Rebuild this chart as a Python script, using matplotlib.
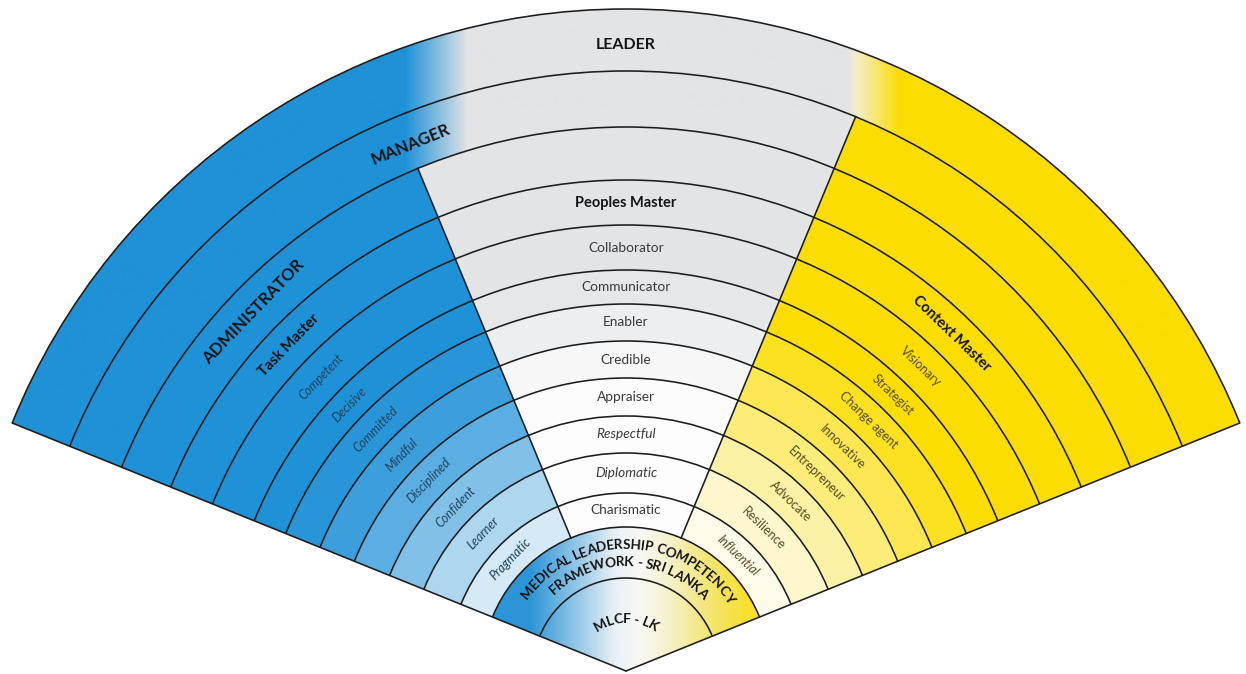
import numpy as np
import matplotlib
matplotlib.use("Agg")
import matplotlib.pyplot as plt
from matplotlib.patches import Wedge, Arc
from matplotlib.colors import to_rgb
from matplotlib.font_manager import FontProperties

FONT = ["Lato", "DejaVu Sans"]
plt.rcParams["font.family"] = FONT

# ---------------------------------------------------------------------------
# Data
# ---------------------------------------------------------------------------
# ring boundaries (px from the tip of the fan), outermost first
RADII = [662, 600, 544, 491, 446, 401, 367, 330, 293, 255, 218, 178, 144, 93]

TOP_LABEL = "LEADER"
SECOND_LABEL = "MANAGER"
LEFT_LABELS = ["ADMINISTRATOR", "Task Master", "Competent", "Decisive", "Committed",
               "Mindful", "Disciplined", "Confident", "Learner", "Pragmatic"]
CENTER_LABELS = ["", "Peoples Master", "Collaborator", "Communicator", "Enabler",
                 "Credible", "Appraiser", "Respectful", "Diplomatic", "Charismatic"]
RIGHT_LABELS = ["", "Context Master", "Visionary", "Strategist", "Change agent",
                "Innovative", "Entrepreneur", "Advocate", "Resilience", "Influential"]
CORE_TITLE = ["MEDICAL LEADERSHIP COMPETENCY", "FRAMEWORK - SRI LANKA"]
CORE_LABEL = "MLCF - LK"

# ---------------------------------------------------------------------------
# Style
# ---------------------------------------------------------------------------
W, H = 1246, 674
CX, CY = 626, 3
EDGE_L, EDGE_R = 158.0, 22.0
SPLIT_L, SPLIT_R = 112.5, 67.5

BLUE = "#1f91d7"
YELLOW = "#fbdd02"
GREY = "#e3e4e6"
WHITE = "#fdfdfd"
LINE = "#1c1c1c"

BLUE_FADE = [0, 0, 0, 0, 0.04, 0.13, 0.27, 0.44, 0.64, 0.82]
GREY_FADE = [0, 0, 0, 0.1, 0.4, 0.75, 0.95, 1, 1, 1]
YELLOW_FADE = [0, 0, 0, 0, 0.12, 0.32, 0.48, 0.65, 0.8, 0.92]

TOP_STOPS = [(0, BLUE), (405, BLUE), (468, GREY), (848, GREY),
             (858, "#f4eec4"), (900, YELLOW), (W, YELLOW)]
CORE_STOPS = [(0, BLUE), (530, "#2d96d7"), (578, "#96c8e8"), (615, "#e8f0f5"),
              (640, "#f8f8f5"), (670, "#f6f1c8"), (705, "#f3e67a"),
              (745, "#f8e030"), (W, YELLOW)]

ITALIC = {"Competent", "Decisive", "Committed", "Mindful", "Disciplined", "Confident",
          "Learner", "Pragmatic", "Respectful", "Diplomatic", "Influential"}
BOLD = {"ADMINISTRATOR", "Task Master", "Peoples Master", "Context Master"}

fig = plt.figure(figsize=(W / 100, H / 100), dpi=100)
ax = fig.add_axes([0, 0, 1, 1])


def polar(r, deg):
    t = np.radians(deg)
    return CX + r * np.cos(t), CY + r * np.sin(t)


def blend(c, frac, to=WHITE):
    a, b = np.array(to_rgb(c)), np.array(to_rgb(to))
    return tuple(a + (b - a) * frac)


def gradient_wedge(r_out, r_in, t1, t2, stops):
    patch = Wedge((CX, CY), r_out, t1, t2, width=r_out - r_in, fc="none", ec="none")
    ax.add_patch(patch)
    xs = np.arange(0, W + 1)
    pos = [p for p, _ in stops]
    rgb = np.array([to_rgb(c) for _, c in stops])
    img = np.stack([np.interp(xs, pos, rgb[:, k]) for k in range(3)], axis=-1)[None]
    im = ax.imshow(img, extent=(0, W, 0, H), origin="lower", aspect="auto",
                   interpolation="bilinear", zorder=1)
    im.set_clip_path(patch)


def solid_wedge(r_out, r_in, t1, t2, color):
    ax.add_patch(Wedge((CX, CY), r_out, t1, t2, width=r_out - r_in,
                       fc=color, ec="none", zorder=2))


def arc_text(s, r, mid, size, color="#151515"):
    fp = FontProperties(family=FONT, size=size, weight="bold")
    rend = fig.canvas.get_renderer()
    base = rend.get_text_width_height_descent("I", fp, ismath=False)[0]

    def adv(t):
        return rend.get_text_width_height_descent(t + "I", fp, ismath=False)[0] - base

    total = adv(s)
    for i, ch in enumerate(s):
        if ch == " ":
            continue
        d = (adv(s[:i]) + adv(s[:i + 1])) / 2 - total / 2
        ang = mid - np.degrees(d / r)
        x, y = polar(r, ang)
        ax.text(x, y, ch, rotation=ang - 90, rotation_mode="anchor", ha="center",
                va="center", fontproperties=fp, color=color, zorder=6)


# ---------------------------------------------------------------------------
# Fills
# ---------------------------------------------------------------------------
# LEADER band
gradient_wedge(RADII[0], RADII[1], EDGE_R, EDGE_L, TOP_STOPS)
# MANAGER band
gradient_wedge(RADII[1], RADII[2], SPLIT_R, EDGE_L, TOP_STOPS)
solid_wedge(RADII[1], RADII[2], EDGE_R, SPLIT_R, YELLOW)

# three sectors
for i in range(len(LEFT_LABELS)):
    r_out, r_in = RADII[2 + i], RADII[3 + i]
    solid_wedge(r_out, r_in, SPLIT_L, EDGE_L, blend(BLUE, BLUE_FADE[i]))
    solid_wedge(r_out, r_in, SPLIT_R, SPLIT_L, blend(GREY, GREY_FADE[i]))
    solid_wedge(r_out, r_in, EDGE_R, SPLIT_R, blend(YELLOW, YELLOW_FADE[i]))

# core rings
gradient_wedge(RADII[-2], RADII[-1], EDGE_R, EDGE_L, CORE_STOPS)
gradient_wedge(RADII[-1], 0, EDGE_R, EDGE_L, CORE_STOPS)

# ---------------------------------------------------------------------------
# Lines
# ---------------------------------------------------------------------------
for r in RADII:
    ax.add_patch(Arc((CX, CY), 2 * r, 2 * r, theta1=EDGE_R, theta2=EDGE_L,
                     color=LINE, lw=1.15, zorder=4))
for ang in (EDGE_L, EDGE_R):
    x, y = polar(RADII[0], ang)
    ax.plot([CX, x], [CY, y], color=LINE, lw=1.15, zorder=4, solid_capstyle="round")
for ang, r_top in ((SPLIT_L, RADII[2]), (SPLIT_R, RADII[1])):
    x0, y0 = polar(RADII[-2], ang)
    x1, y1 = polar(r_top, ang)
    ax.plot([x0, x1], [y0, y1], color=LINE, lw=1.15, zorder=4)

# ---------------------------------------------------------------------------
# Labels
# ---------------------------------------------------------------------------
def ring_mid(i):
    return (RADII[2 + i] + RADII[3 + i]) / 2


x, y = polar((RADII[0] + RADII[1]) / 2 - 5, 90)
ax.text(x, y, TOP_LABEL, ha="center", va="center", fontsize=11.5,
        fontweight="bold", color="#151515", zorder=6)
x, y = polar((RADII[1] + RADII[2]) / 2 - 3, 112.3)
ax.text(x, y, SECOND_LABEL, ha="center", va="center", rotation=22.3,
        rotation_mode="anchor", fontsize=12, fontweight="bold", color="#151515", zorder=6)


def sector_label(text, r, ang, color, size):
    if not text:
        return
    bold = text in BOLD or text.isupper()
    x, y = polar(r, ang)
    ax.text(x, y, text, ha="center", va="center", rotation=ang - 90,
            rotation_mode="anchor",
            fontsize=12 if text.isupper() else (10.5 if bold else size),
            fontweight="bold" if bold else "normal",
            fontstyle="italic" if text in ITALIC else "normal",
            color="#151515" if bold else color, zorder=6)


for i, lab in enumerate(LEFT_LABELS):
    sector_label(lab, ring_mid(i), 136.0, "#22445c", 9)
for i, lab in enumerate(CENTER_LABELS):
    sector_label(lab, ring_mid(i), 90, "#3a3a3a", 9.8)
for i, lab in enumerate(RIGHT_LABELS):
    sector_label(lab, ring_mid(i), 46.0, "#554d24", 9)

arc_text(CORE_TITLE[0], 126, 88.8, 9.8)
arc_text(CORE_TITLE[1], 109, 88.3, 9.8)
arc_text(CORE_LABEL, 52, 90, 10)

ax.set_xlim(0, W)
ax.set_ylim(0, H)
ax.axis("off")
fig.savefig("out.png", dpi=100, facecolor="white")
